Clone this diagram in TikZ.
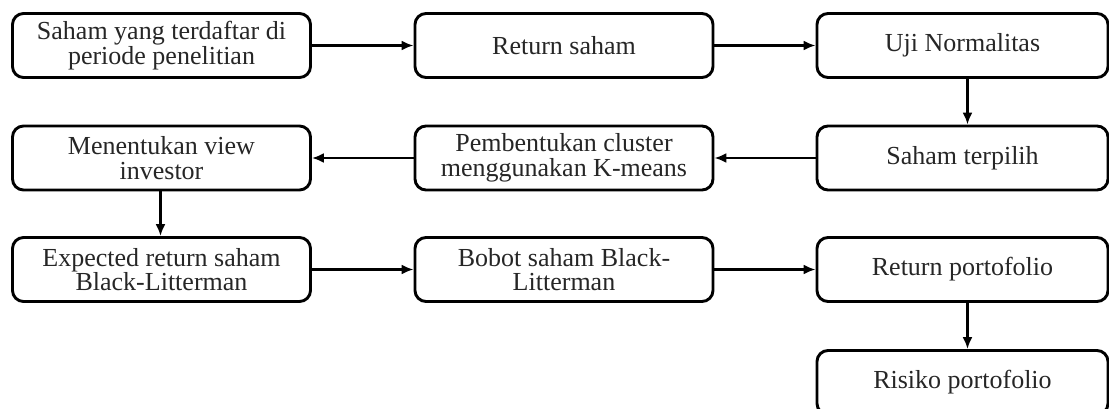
\documentclass[tikz,border=0pt]{standalone}
\usepackage{fontspec}
\setmainfont{Liberation Serif}
\usetikzlibrary{arrows.meta}
\tikzset{
  box/.style={draw=black, line width=2.9pt, rounded corners=11pt, minimum width=298pt, minimum height=64pt, inner sep=0pt, align=center, text=black!85, font=\fontsize{26}{24.5}\selectfont},
  flow/.style={line width=2.3pt, -{Latex[length=12pt,width=10pt]}}
}
\begin{document}
\begin{tikzpicture}[x=1pt,y=-1pt]
\useasboundingbox (0,0) rectangle (1109,409);
\node[box] (a) at (161.5,45.5) {Saham yang terdaftar di\\periode penelitian};
\node[box] (b) at (564,45.5) {Return saham};
\node[box, minimum width=291pt] (c) at (962.5,45.5) {Uji Normalitas};
\node[box, minimum width=291pt] (d) at (962.5,158) {Saham terpilih};
\node[box] (e) at (564,158) {Pembentukan cluster\\menggunakan K-means};
\node[box] (f) at (161.5,158) {Menentukan view\\investor};
\node[box] (g) at (161.5,269.5) {Expected return saham\\Black-Litterman};
\node[box] (h) at (564,269.5) {Bobot saham Black-\\Litterman};
\node[box, minimum width=291pt] (i) at (962.5,269.5) {Return portofolio};
\node[box, minimum width=291pt] (j) at (962.5,382.5) {Risiko portofolio};
\draw[flow] (a) -- (b);
\draw[flow] (b) -- (c);
\draw[flow] ([xshift=5pt]c.south) -- ([xshift=5pt]d.north);
\draw[flow] (d) -- (e);
\draw[flow] (e) -- (f);
\draw[flow] ([xshift=-1pt]f.south) -- ([xshift=-1pt]g.north);
\draw[flow] (g) -- (h);
\draw[flow] (h) -- (i);
\draw[flow] ([xshift=5pt]i.south) -- ([xshift=5pt]j.north);
\end{tikzpicture}
\end{document}
